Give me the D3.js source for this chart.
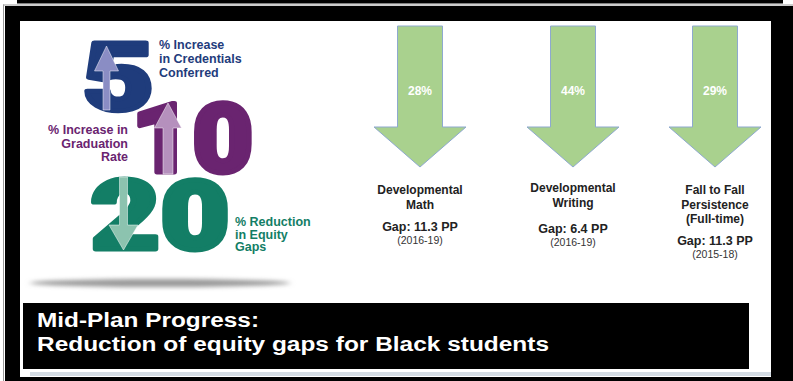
<!DOCTYPE html>
<html lang="en">
<head>
<meta charset="UTF-8">
<title>Mid-Plan Progress</title>
<script src="https://d3js.org/d3.v7.min.js"></script>
<style>
  body { margin: 0; background: #fff; }
  text { font-family: "Liberation Sans", Arial, sans-serif; }
</style>
</head>
<body>
<div id="main"></div>
<script>
    // data
    const measures = ["Developmental Math", "Developmental Writing", "Fall to Fall Persistence (Full-time)"]
    const measureLines = [["Developmental", "Math"], ["Developmental", "Writing"], ["Fall to Fall", "Persistence", "(Full-time)"]]
    const reductions = [28, 44, 29]
    const gaps = [11.3, 6.4, 11.3]
    const periods = ["(2016-19)", "(2016-19)", "(2015-18)"]

    const goalValues = [5, 10, 20]
    const goalLabels = [["% Increase", "in Credentials", "Conferred"], ["% Increase in", "Graduation", "Rate"], ["% Reduction", "in Equity", "Gaps"]]
    const goalColors = ["#1f3c7c", "#6a2470", "#137e66"]
    const goalArrowColors = ["#8a8dc4", "#b590bd", "#8cc3af"]

    const titleLines = ["Mid-Plan Progress:", "Reduction of equity gaps for Black students"]

    let width = 793, height = 381

    let svg = d3.select("#main")
        .append("svg")
        .attr("id", "svg")
        .attr("width", width)
        .attr("height", height)

    // frame
    svg.append("rect").attr("x", 0).attr("y", 0).attr("width", width).attr("height", height).attr("fill", "#fff")
    svg.append("rect").attr("x", 17).attr("y", 0).attr("width", 766).attr("height", 3.5).attr("fill", "#000")
    svg.append("rect").attr("x", 3).attr("y", 4.5).attr("width", 790).attr("height", 1).attr("fill", "#999")
    svg.append("rect").attr("x", 3).attr("y", 4.5).attr("width", 1).attr("height", 377).attr("fill", "#999")
    svg.append("rect").attr("x", 5).attr("y", 6).attr("width", 788).attr("height", 375).attr("fill", "#000")
    svg.append("rect").attr("x", 20).attr("y", 21).attr("width", 751).attr("height", 356).attr("fill", "#fff")
    svg.append("rect").attr("x", 30).attr("y", 372).attr("width", 741).attr("height", 4).attr("fill", "#d3dbe3")

    // soft shadow under the logo
    let defs = svg.append("defs")
    defs.append("filter").attr("id", "blur").attr("x", "-20%").attr("y", "-200%").attr("width", "140%").attr("height", "500%")
        .append("feGaussianBlur").attr("stdDeviation", "3 2")
    svg.append("ellipse")
        .attr("cx", 160).attr("cy", 283).attr("rx", 130).attr("ry", 4)
        .attr("fill", "#9a9a9a").attr("filter", "url(#blur)")

    // big goal numerals, fitted to their ink boxes
    const numBoxes = [[83, 40, 152, 113], [137, 100, 252, 175], [90, 177, 228, 252]]
    const numFont = "Roboto, 'DejaVu Sans', sans-serif"
    const numStroke = 5
    let ctx = document.createElement("canvas").getContext("2d")
    ctx.font = "900 100px " + numFont
    let logo = svg.append("g")
    goalValues.forEach(function (v, i) {
        let m = ctx.measureText(String(v))
        let ix0 = -m.actualBoundingBoxLeft - numStroke / 2, ix1 = m.actualBoundingBoxRight + numStroke / 2
        let iy0 = -m.actualBoundingBoxAscent - numStroke / 2, iy1 = m.actualBoundingBoxDescent + numStroke / 2
        let b = numBoxes[i]
        let sx = (b[2] - b[0]) / (ix1 - ix0), sy = (b[3] - b[1]) / (iy1 - iy0)
        logo.append("text")
            .text(v)
            .attr("fill", goalColors[i])
            .attr("stroke", goalColors[i])
            .attr("stroke-width", numStroke)
            .attr("stroke-linejoin", "round")
            .style("font-family", numFont)
            .style("font-weight", 900)
            .style("font-size", "100px")
            .attr("transform", `translate(${b[0]},${b[1]}) scale(${sx},${sy}) translate(${-ix0},${-iy0})`)
    })

    // small arrows on the numerals
    const arrowDefs = [
        {dir: -1, cx: 106.5, y0: 110, y1: 46, hw: 3.5, hh: 12, head: 25},
        {dir: -1, cx: 168, y0: 174, y1: 103, hw: 5, hh: 13.5, head: 25},
        {dir: 1, cx: 123.5, y0: 177, y1: 250, hw: 4, hh: 14.5, head: 25}
    ]
    arrowDefs.forEach(function (a, i) {
        let headBase = a.y1 - a.dir * a.head
        let p = d3.path()
        p.moveTo(a.cx - a.hw, a.y0)
        p.lineTo(a.cx - a.hw, headBase)
        p.lineTo(a.cx - a.hh, headBase)
        p.lineTo(a.cx, a.y1)
        p.lineTo(a.cx + a.hh, headBase)
        p.lineTo(a.cx + a.hw, headBase)
        p.lineTo(a.cx + a.hw, a.y0)
        p.closePath()
        logo.append("path").attr("d", p.toString())
            .attr("fill", goalArrowColors[i])
            .attr("stroke", "#fff").attr("stroke-opacity", 0.6).attr("stroke-width", 0.8)
    })

    // goal captions
    const capPos = [{x: 159, y: 49, anchor: "start"}, {x: 128, y: 134, anchor: "end"}, {x: 235, y: 226, anchor: "start"}]
    const capStep = [14, 13.5, 12.5]
    goalLabels.forEach(function (lines, i) {
        logo.append("g").selectAll("text")
            .data(lines)
            .enter()
            .append("text")
            .attr("x", capPos[i].x)
            .attr("y", (d, j) => capPos[i].y + j * capStep[i])
            .attr("text-anchor", capPos[i].anchor)
            .attr("fill", goalColors[i])
            .style("font-weight", "bold")
            .style("font-size", "12.5px")
            .text(d => d)
    })

    // green arrows, one per measure
    let xScale = d3.scaleOrdinal()
        .domain(measures)
        .range([420, 573, 715])

    let arrowTop = 26, headY = 127, tipY = 167, shaftHalf = 22.5, headHalf = 46

    function downArrow(cx) {
        let p = d3.path()
        p.moveTo(cx - shaftHalf, arrowTop)
        p.lineTo(cx + shaftHalf, arrowTop)
        p.lineTo(cx + shaftHalf, headY)
        p.lineTo(cx + headHalf, headY)
        p.lineTo(cx, tipY)
        p.lineTo(cx - headHalf, headY)
        p.lineTo(cx - shaftHalf, headY)
        p.closePath()
        return p.toString()
    }

    let cols = svg.append("g").selectAll("g")
        .data(measures)
        .enter()
        .append("g")

    cols.append("path")
        .attr("d", d => downArrow(xScale(d)))
        .attr("fill", "#a9d18e")
        .attr("stroke", "#8ea9cf")
        .attr("stroke-width", 1)

    cols.append("text")
        .attr("x", d => xScale(d))
        .attr("y", 95)
        .attr("text-anchor", "middle")
        .attr("fill", "#fff")
        .style("font-weight", "bold")
        .style("font-size", "12px")
        .text((d, i) => reductions[i] + "%")

    cols.each(function (d, i) {
        let g = d3.select(this)
        let cx = xScale(d)
        let lines = measureLines[i]
        let top = i === 1 ? 192 : 194
        g.selectAll("text.name")
            .data(lines)
            .enter()
            .append("text")
            .attr("class", "name")
            .attr("x", cx)
            .attr("y", (t, j) => top + j * 14.5)
            .attr("text-anchor", "middle")
            .attr("fill", "#222")
            .style("font-weight", "bold")
            .style("font-size", "12px")
            .text(t => t)
        let gapY = top + (lines.length - 1) * 14.5 + 22 + (i === 1 ? 4 : 0)
        g.append("text")
            .attr("x", cx)
            .attr("y", gapY)
            .attr("text-anchor", "middle")
            .attr("fill", "#222")
            .style("font-weight", "bold")
            .style("font-size", "12.5px")
            .text("Gap: " + gaps[i] + " PP")
        g.append("text")
            .attr("x", cx)
            .attr("y", gapY + 13)
            .attr("text-anchor", "middle")
            .attr("fill", "#333")
            .style("font-size", "10.5px")
            .text(periods[i])
    })

    // title box
    svg.append("rect").attr("x", 23).attr("y", 303).attr("width", 726).attr("height", 66).attr("fill", "#000")
    svg.append("g").selectAll("text")
        .data(titleLines)
        .enter()
        .append("text")
        .attr("x", 37)
        .attr("y", (d, i) => 327 + i * 23.5)
        .attr("fill", "#fff")
        .style("font-weight", "bold")
        .style("font-size", "20px")
        .attr("textLength", (d, i) => i === 0 ? 222 : 512)
        .attr("lengthAdjust", "spacingAndGlyphs")
        .text(d => d)
</script>
</body>
</html>
